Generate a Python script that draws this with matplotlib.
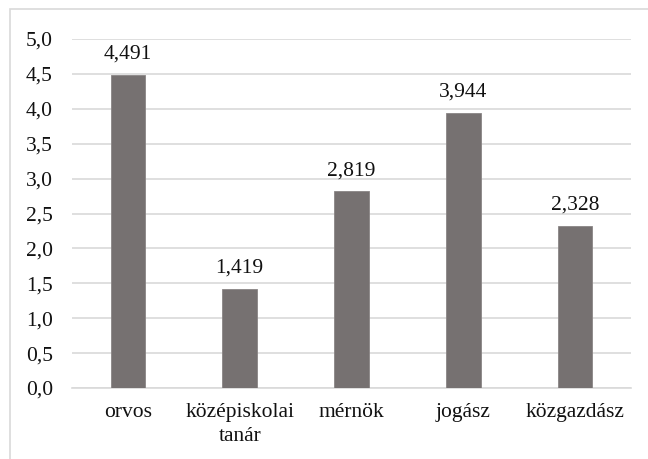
import matplotlib
matplotlib.use("Agg")
import matplotlib.pyplot as plt
from matplotlib.patches import Rectangle

categories = ["orvos", "középiskolai\ntanár", "mérnök", "jogász", "közgazdász"]
values = [4.491, 1.419, 2.819, 3.944, 2.328]
value_labels = ["4,491", "1,419", "2,819", "3,944", "2,328"]
yticks = [0.0, 0.5, 1.0, 1.5, 2.0, 2.5, 3.0, 3.5, 4.0, 4.5, 5.0]
ytick_labels = ["0,0", "0,5", "1,0", "1,5", "2,0", "2,5", "3,0", "3,5", "4,0", "4,5", "5,0"]

plt.rcParams['font.family'] = ['Liberation Serif', 'DejaVu Serif']
FS = 15.5

W, H = 648, 459
fig = plt.figure(figsize=(W/100, H/100), dpi=100)
ax = fig.add_axes([72/W, 1 - 388/H, (631-72)/W, (388-39)/H])

x = list(range(len(categories)))
ax.bar(x, values, width=0.31, color="#767171", edgecolor="#8a8585", linewidth=0.6, zorder=3)
for xi, v, lab in zip(x, values, value_labels):
    ax.annotate(lab, (xi, v), xytext=(0, 11.5), textcoords="offset points",
                ha="center", va="baseline", fontsize=FS, color="#111111")

ax.set_xlim(-0.5, len(categories) - 0.5)
ax.set_ylim(0, 5.0)
ax.set_yticks(yticks)
ax.set_yticklabels(ytick_labels, fontsize=FS, color="#111111")
ax.set_xticks(x)
ax.set_xticklabels(categories, fontsize=FS, color="#111111", linespacing=1.4)
ax.tick_params(axis="both", length=0)
ax.tick_params(axis="y", pad=13.7)
ax.tick_params(axis="x", pad=10.5)
ax.yaxis.grid(True, color="#d9d9d9", linewidth=1.2, zorder=0)
for s in ["top", "right", "left"]:
    ax.spines[s].set_visible(False)
ax.spines["bottom"].set_color("#d9d9d9")
ax.spines["bottom"].set_linewidth(1.2)

fig.patches.append(Rectangle((10/W, -0.1), 1.2, 1 - 9.5/H + 0.1, transform=fig.transFigure,
                             fill=False, edgecolor="#d9d9d9", linewidth=1.2))

fig.savefig("out.png", dpi=100)
